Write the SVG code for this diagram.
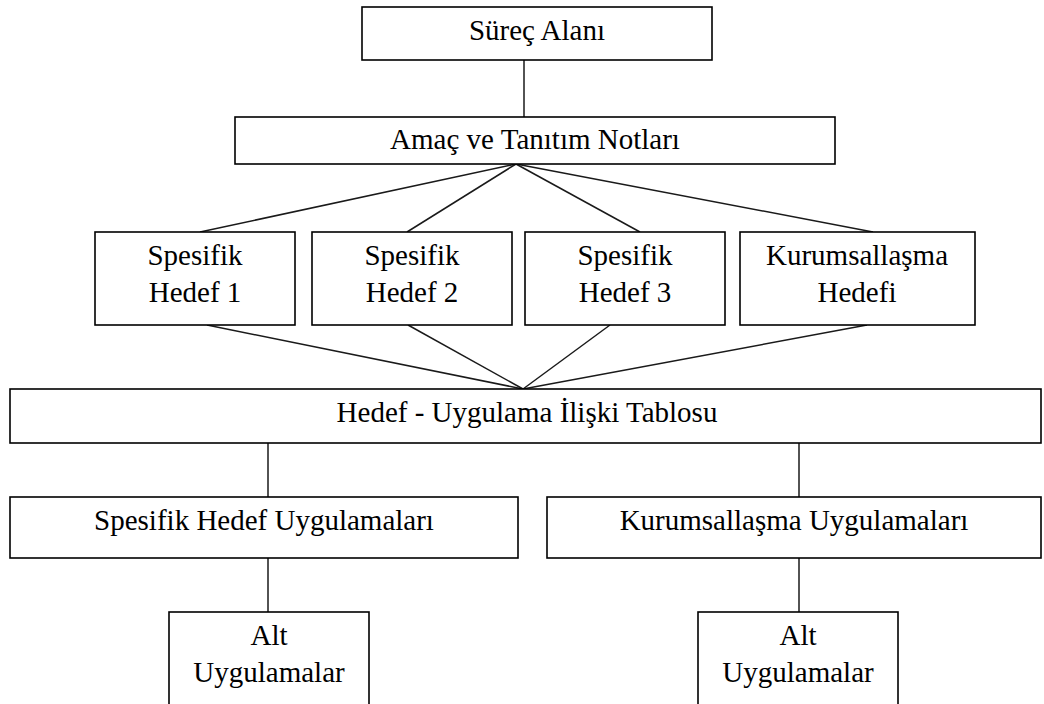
<svg xmlns="http://www.w3.org/2000/svg" width="1044" height="704" viewBox="0 0 1044 704">
  <style>
    .box { fill: #ffffff; stroke: #000000; stroke-width: 1.6; }
    .link { stroke: #1a1a1a; stroke-width: 1.5; fill: none; }
    .lbl { font-family: "Liberation Serif", "Times New Roman", serif; font-size: 29px; fill: #000000; text-anchor: middle; }
  </style>
  <rect width="1044" height="704" fill="#ffffff"/>

  <g id="connectors">
    <line class="link" x1="524" y1="60" x2="524" y2="117"/>
    <line class="link" x1="516" y1="164" x2="200" y2="232"/>
    <line class="link" x1="516" y1="164" x2="407" y2="232"/>
    <line class="link" x1="516" y1="164" x2="640" y2="232"/>
    <line class="link" x1="516" y1="164" x2="873" y2="232"/>
    <line class="link" x1="207" y1="325" x2="523" y2="389"/>
    <line class="link" x1="408" y1="325" x2="523" y2="389"/>
    <line class="link" x1="610" y1="325" x2="523" y2="389"/>
    <line class="link" x1="867" y1="325" x2="523" y2="389"/>
    <line class="link" x1="268" y1="443" x2="268" y2="497"/>
    <line class="link" x1="799" y1="443" x2="799" y2="497"/>
    <line class="link" x1="268" y1="558" x2="268" y2="612"/>
    <line class="link" x1="799" y1="558" x2="799" y2="612"/>
  </g>

  <g id="surec-alani">
    <rect class="box" x="362" y="7" width="350" height="53"/>
    <text class="lbl" x="537" y="40">Süreç Alanı</text>
  </g>

  <g id="amac-notlari">
    <rect class="box" x="235" y="117" width="600" height="47"/>
    <text class="lbl" x="535" y="149">Amaç ve Tanıtım Notları</text>
  </g>

  <g id="spesifik-hedef-1">
    <rect class="box" x="95" y="232" width="200" height="93"/>
    <text class="lbl" x="195" y="265">Spesifik</text>
    <text class="lbl" x="195" y="302">Hedef 1</text>
  </g>

  <g id="spesifik-hedef-2">
    <rect class="box" x="312" y="232" width="200" height="93"/>
    <text class="lbl" x="412" y="265">Spesifik</text>
    <text class="lbl" x="412" y="302">Hedef 2</text>
  </g>

  <g id="spesifik-hedef-3">
    <rect class="box" x="525" y="232" width="200" height="93"/>
    <text class="lbl" x="625" y="265">Spesifik</text>
    <text class="lbl" x="625" y="302">Hedef 3</text>
  </g>

  <g id="kurumsallasma-hedefi">
    <rect class="box" x="740" y="232" width="235" height="93"/>
    <text class="lbl" x="857" y="265">Kurumsallaşma</text>
    <text class="lbl" x="857" y="302">Hedefi</text>
  </g>

  <g id="iliski-tablosu">
    <rect class="box" x="10" y="389" width="1031" height="54"/>
    <text class="lbl" x="527" y="422">Hedef - Uygulama İlişki Tablosu</text>
  </g>

  <g id="spesifik-uygulamalar">
    <rect class="box" x="10" y="497" width="508" height="61"/>
    <text class="lbl" x="264" y="530">Spesifik Hedef Uygulamaları</text>
  </g>

  <g id="kurumsallasma-uygulamalar">
    <rect class="box" x="547" y="497" width="494" height="61"/>
    <text class="lbl" x="794" y="530">Kurumsallaşma Uygulamaları</text>
  </g>

  <g id="alt-uygulamalar-1">
    <rect class="box" x="169" y="612" width="200" height="100"/>
    <text class="lbl" x="269" y="645">Alt</text>
    <text class="lbl" x="269" y="682">Uygulamalar</text>
  </g>

  <g id="alt-uygulamalar-2">
    <rect class="box" x="698" y="612" width="200" height="100"/>
    <text class="lbl" x="798" y="645">Alt</text>
    <text class="lbl" x="798" y="682">Uygulamalar</text>
  </g>
</svg>
